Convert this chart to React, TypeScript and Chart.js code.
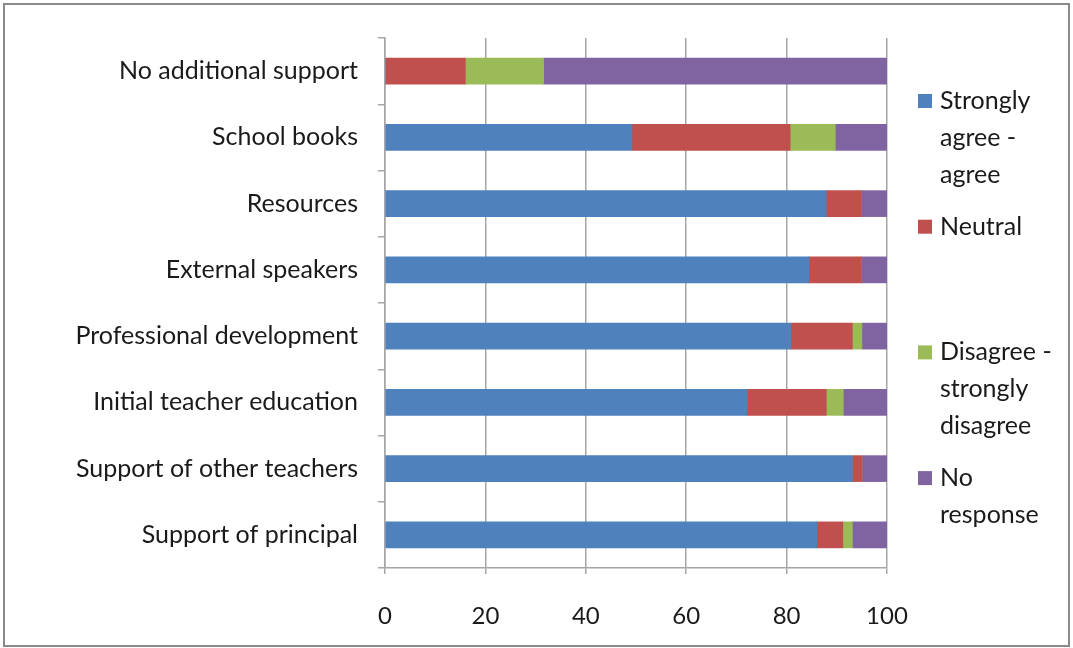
import React, { useEffect, useRef } from "react";
import { Chart, registerables } from "chart.js";

Chart.register(...registerables);

const categories = [
  "No additional support",
  "School books",
  "Resources",
  "External speakers",
  "Professional development",
  "Initial teacher education",
  "Support of other teachers",
  "Support of principal",
];

const stronglyAgree = [0, 49.2, 87.9, 84.4, 80.8, 72.1, 93.1, 86.0];
const neutral = [16.0, 31.5, 7.0, 10.5, 12.3, 15.8, 1.9, 5.2];
const disagree = [15.6, 9.0, 0, 0, 1.9, 3.4, 0, 1.9];
const noResponse = [68.4, 10.3, 5.1, 5.1, 5.0, 8.7, 5.0, 6.9];

const seriesNames = ["Strongly agree - agree", "Neutral", "Disagree - strongly disagree", "No response"];
const legendLines = [["Strongly", "agree -", "agree"], ["Neutral"], ["Disagree -", "strongly", "disagree"], ["No", "response"]];
const seriesColors = ["#4F81BD", "#C0504D", "#9BBB59", "#8064A2"];
const xTicks = [0, 20, 40, 60, 80, 100];

const FONT = "Lato, 'Liberation Sans', sans-serif";

const legendPlugin = {
  id: "customLegend",
  afterDraw(chart: any) {
    const ctx = chart.ctx;
    const area = chart.chartArea;
    ctx.save();
    ctx.font = `25px ${FONT}`;
    ctx.textBaseline = "middle";
    ctx.textAlign = "left";
    chart.data.datasets.forEach((ds: any, i: number) => {
      const y0 = area.top + 63 + i * 125.7;
      const x0 = area.right + 31;
      ctx.fillStyle = ds.backgroundColor;
      ctx.fillRect(x0, y0 - 7, 14, 14);
      ctx.fillStyle = "#1a1a1a";
      legendLines[i].forEach((ln, j) => {
        ctx.fillText(ln, x0 + 22, y0 + j * 37);
      });
    });
    ctx.restore();
  },
};

export default function App() {
  const ref = useRef<HTMLCanvasElement>(null);
  useEffect(() => {
    document.body.style.margin = "0";
    const values = [stronglyAgree, neutral, disagree, noResponse];
    const chart = new Chart(ref.current!, {
      type: "bar",
      data: {
        labels: categories,
        datasets: seriesNames.map((name, i) => ({
          label: name,
          data: values[i],
          backgroundColor: seriesColors[i],
          borderWidth: 0,
          barThickness: 26,
        })),
      },
      options: {
        indexAxis: "y",
        animation: false,
        responsive: false,
        maintainAspectRatio: false,
        layout: { padding: { left: 0, right: 186, top: 38, bottom: 0 } },
        plugins: {
          legend: { display: false },
          tooltip: { enabled: false },
        },
        scales: {
          x: {
            stacked: true,
            min: 0,
            max: 100,
            afterBuildTicks: (s: any) => {
              s.ticks = xTicks.map((v) => ({ value: v }));
            },
            afterFit: (s: any) => {
              s.height = 80;
            },
            grid: {
              color: "#a6a6a6",
              lineWidth: 1.5,
              drawTicks: true,
              tickLength: 6,
              tickColor: "#a6a6a6",
            },
            border: { color: "#a6a6a6", width: 1.5 },
            ticks: {
              font: { family: FONT, size: 24 },
              color: "#1a1a1a",
              padding: 28,
              maxRotation: 0,
            },
          },
          y: {
            stacked: true,
            afterFit: (s: any) => {
              s.width = 385;
            },
            grid: {
              drawOnChartArea: false,
              drawTicks: true,
              tickLength: 7,
              tickColor: "#a6a6a6",
              lineWidth: 1.5,
              offset: true,
            },
            border: { color: "#a6a6a6", width: 1.5 },
            ticks: {
              font: { family: FONT, size: 25 },
              color: "#1a1a1a",
              padding: 20,
            },
          },
        },
      },
      plugins: [legendPlugin],
    } as any);
    return () => chart.destroy();
  }, []);
  return (
    <div style={{ position: "absolute", left: 0, top: 0, width: 1073, height: 648 }}>
      <canvas ref={ref} width={1073} height={648} style={{ position: "absolute", left: 0, top: 0 }} />
      <div
        style={{
          position: "absolute",
          left: 3,
          top: 3,
          width: 1063,
          height: 640,
          border: "2px solid #8a8a8a",
          pointerEvents: "none",
        }}
      />
    </div>
  );
}
